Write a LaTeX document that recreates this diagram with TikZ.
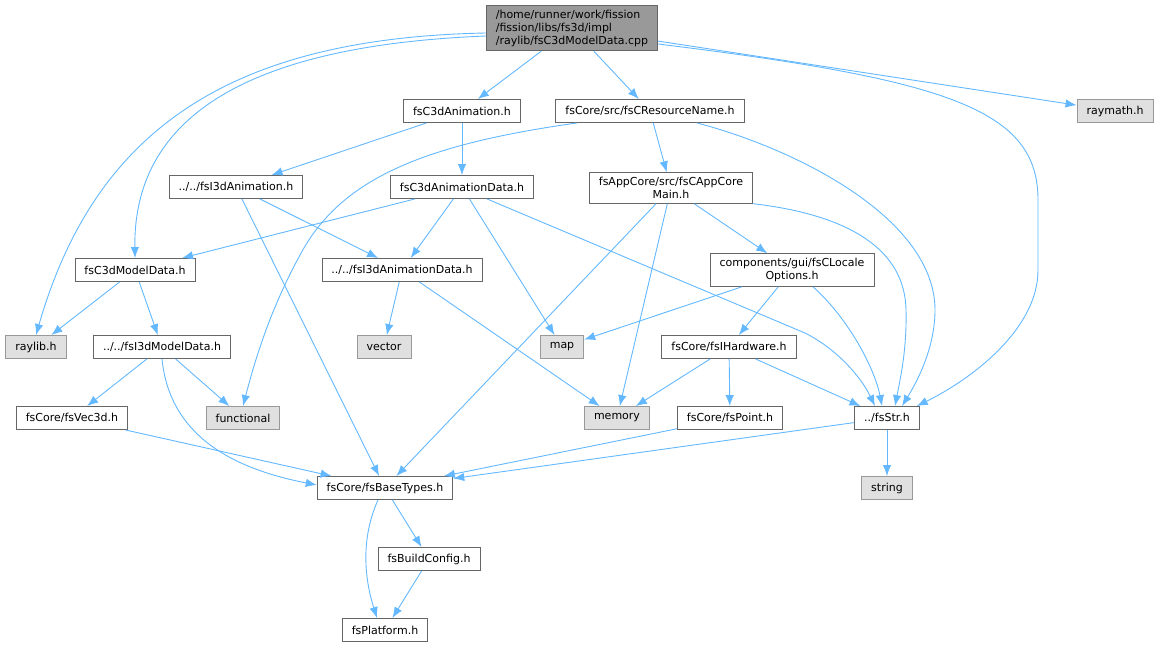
\documentclass[tikz,border=0pt]{standalone}
\usepackage{fontspec}
\setmainfont{DejaVu Sans}
\usetikzlibrary{arrows.meta}
\definecolor{edgeblue}{HTML}{63B8FF}
\definecolor{boxgray}{HTML}{666666}
\definecolor{sysgray}{HTML}{999999}
\definecolor{sysfill}{HTML}{E0E0E0}
\tikzset{
	hdr/.style={draw=boxgray, fill=white, line width=0.9pt, inner xsep=9.5pt, inner ysep=4.5pt, minimum height=23pt, font=\fontsize{11}{13}\selectfont, align=center},
	sys/.style={hdr, draw=sysgray, fill=sysfill},
	rootbox/.style={hdr, fill=sysgray, align=left},
	dep/.style={draw=edgeblue, line width=0.9pt, -{Latex[length=11pt,width=8.5pt]}},
}
\begin{document}
\begin{tikzpicture}[x=1pt, y=-1pt]
		\useasboundingbox (0,0) rectangle (1159,647);
		
		%files
		\node[rootbox] (root) at (572,28) {/home/runner/work/fission\\/fission/libs/fs3d/impl\\/raylib/fsC3dModelData.cpp};
		\node[hdr] (anim) at (462,111) {fsC3dAnimation.h};
		\node[hdr] (resname) at (650,111) {fsCore/src/fsCResourceName.h};
		\node[sys] (raymath) at (1115,111) {raymath.h};
		\node[hdr] (i3danim) at (236,187) {../../fsI3dAnimation.h};
		\node[hdr] (c3danimdata) at (462,187) {fsC3dAnimationData.h};
		\node[hdr] (appcore) at (671,188) {fsAppCore/src/fsCAppCore\\Main.h};
		\node[hdr] (c3dmodel) at (135,270) {fsC3dModelData.h};
		\node[hdr] (i3danimdata) at (402,270) {../../fsI3dAnimationData.h};
		\node[hdr] (locale) at (792,270) {components/gui/fsCLocale\\Options.h};
		\node[sys] (raylib) at (36,347) {raylib.h};
		\node[hdr] (i3dmodel) at (162,347) {../../fsI3dModelData.h};
		\node[sys] (vector) at (384,347) {vector};
		\node[sys] (map) at (562,347) {map};
		\node[hdr] (hardware) at (729,347) {fsCore/fsIHardware.h};
		\node[hdr] (vec3d) at (72,418) {fsCore/fsVec3d.h};
		\node[sys] (functional) at (243,418) {functional};
		\node[sys] (memory) at (617,418) {memory};
		\node[hdr] (point) at (730,418) {fsCore/fsPoint.h};
		\node[hdr] (fsstr) at (887,418) {../fsStr.h};
		\node[hdr] (basetypes) at (385,488) {fsCore/fsBaseTypes.h};
		\node[sys] (string) at (887,488) {string};
		\node[hdr] (buildconfig) at (429,559) {fsBuildConfig.h};
		\node[hdr] (platform) at (385,630) {fsPlatform.h};
		
		%includes of the cpp file
		\draw[dep] ([yshift=-5pt]root.west) .. controls (230,38) and (95,130) .. (raylib.north);
		\draw[dep] ([yshift=-8pt]root.west) .. controls (260,45) and (133,110) .. (c3dmodel.north);
		\draw[dep] (root) -- (anim);
		\draw[dep] (root) -- (resname);
		\draw[dep] ([yshift=-16pt]root.east) .. controls (950,80) and (1038,110) .. (1038,200) -- (1038,270) .. controls (1038,330) and (970,380) .. ([xshift=-3pt]fsstr.north east);
		\draw[dep] (root) -- (raymath);
		
		%second row
		\draw[dep] (anim) -- (i3danim);
		\draw[dep] (anim) -- (c3danimdata);
		\draw[dep] ([xshift=-73pt]resname.south) .. controls (420,145) and (340,180) .. (300,255) .. controls (270,310) and (255,360) .. (functional.north);
		\draw[dep] (resname) -- (appcore);
		\draw[dep] ([xshift=47pt]resname.south) .. controls (800,150) and (935,220) .. (935,310) .. controls (935,350) and (915,385) .. ([xshift=15pt]fsstr.north);
		
		%third row
		\draw[dep] (i3danim) -- (basetypes);
		\draw[dep] (i3danim) -- (i3danimdata);
		\draw[dep] (c3danimdata) -- (c3dmodel);
		\draw[dep] (c3danimdata) -- (i3danimdata);
		\draw[dep] (c3danimdata) -- (map);
		\draw[dep] ([xshift=25pt]c3danimdata.south) -- (805,333) .. controls (835,348) and (860,375) .. ([xshift=-12pt]fsstr.north);
		\draw[dep] (appcore) -- (basetypes);
		\draw[dep] (appcore) -- (memory);
		\draw[dep] (appcore) -- (locale);
		\draw[dep] (appcore.south east) .. controls (850,215) and (905,250) .. (906,310) .. controls (907,350) and (900,380) .. ([xshift=8pt]fsstr.north);
		
		%fourth row
		\draw[dep] (c3dmodel) -- (raylib);
		\draw[dep] (c3dmodel) -- (i3dmodel);
		\draw[dep] (i3danimdata) -- (vector);
		\draw[dep] (i3danimdata) -- (memory);
		\draw[dep] (locale) -- (map);
		\draw[dep] (locale) -- (hardware);
		\draw[dep] ([xshift=21pt]locale.south) .. controls (850,320) and (875,370) .. ([xshift=-5pt]fsstr.north);
		
		%lower rows
		\draw[dep] (i3dmodel) -- (vec3d);
		\draw[dep] (i3dmodel) -- (functional);
		\draw[dep] (i3dmodel.south) .. controls (170,440) and (240,470) .. ([yshift=3pt]basetypes.west);
		\draw[dep] (hardware) -- (memory);
		\draw[dep] (hardware) -- (point);
		\draw[dep] (hardware) -- (fsstr);
		\draw[dep] (vec3d) -- (basetypes);
		\draw[dep] (point) -- (basetypes);
		\draw[dep] (fsstr) -- (basetypes);
		\draw[dep] (fsstr) -- (string);
		\draw[dep] (basetypes) -- (buildconfig);
		\draw[dep] ([xshift=-7pt]basetypes.south) .. controls (360,540) and (365,580) .. ([xshift=-8pt]platform.north);
		\draw[dep] (buildconfig) -- (platform);
\end{tikzpicture}
\end{document}
